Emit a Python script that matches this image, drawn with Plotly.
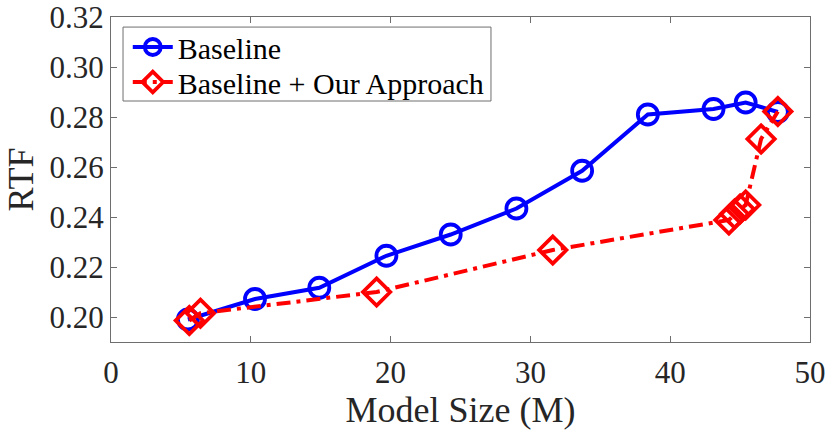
import plotly.graph_objects as go

# values
base_size = [5.5, 10.3, 14.9, 19.7, 24.3, 29.0, 33.7, 38.4, 43.1, 45.4, 47.7]
base_rtf = [0.1990, 0.2072, 0.2117, 0.2245, 0.2330, 0.2434, 0.2585, 0.2810, 0.2832, 0.2858, 0.2820]

ours_size = [5.6, 6.4, 19.0, 31.6, 44.2, 44.6, 45.0, 45.4, 46.5, 47.7]
ours_rtf = [0.1986, 0.2015, 0.2100, 0.2268, 0.2388, 0.2412, 0.2432, 0.2448, 0.2712, 0.2822]

x_ticks = [0, 10, 20, 30, 40, 50]
y_ticks = [0.20, 0.22, 0.24, 0.26, 0.28, 0.30, 0.32]

serif = "Liberation Serif"
axis_grey = "#6e6e6e"

fig = go.Figure()

fig.add_trace(go.Scatter(
    x=base_size, y=base_rtf,
    name="Baseline",
    mode="lines+markers",
    line=dict(color="#0000ff", width=4),
    marker=dict(symbol="circle-open", size=20, color="#0000ff",
                line=dict(width=3.8, color="#0000ff")),
    legend="legend",
))

fig.add_trace(go.Scatter(
    x=ours_size, y=ours_rtf,
    name="Baseline + Our Approach",
    mode="lines+markers",
    line=dict(color="#ff0000", width=4, dash="14px,6px,4px,6px"),
    marker=dict(symbol="diamond-open", size=21, color="#ff0000",
                line=dict(width=3.8, color="#ff0000")),
    legend="legend2",
))

axis_common = dict(
    showline=True, linecolor=axis_grey, linewidth=1, mirror="ticks",
    ticks="inside", ticklen=6, tickcolor=axis_grey, tickwidth=1,
    showgrid=False, zeroline=False, automargin=False,
    ticklabeloverflow="allow",
    tickfont=dict(family=serif, size=31, color="#262626"),
)

fig.update_xaxes(
    range=[0, 50], tickvals=x_ticks, ticklabelstandoff=3,
    title=dict(text="Model Size (M)", font=dict(family=serif, size=36, color="#262626"),
               standoff=2),
    **axis_common,
)
fig.update_yaxes(
    range=[0.19, 0.32], tickvals=y_ticks, tickformat=".2f",
    title=dict(text="RTF", font=dict(family=serif, size=36, color="#262626"),
               standoff=4),
    **axis_common,
)

# one shared box behind the two single-entry legends (tighter rows than one legend)
fig.add_shape(
    type="rect", xref="paper", yref="paper",
    x0=0.0172, x1=0.5436, y0=0.7415, y1=0.969,
    line=dict(color=axis_grey, width=1), fillcolor="white", layer="above",
)

legend_common = dict(
    xanchor="left", yanchor="middle", x=0.024,
    bgcolor="rgba(0,0,0,0)", borderwidth=0,
    font=dict(family=serif, size=30, color="#000000"),
    itemwidth=40,
)

fig.update_layout(
    width=830, height=434,
    margin=dict(l=111, r=20, t=17, b=92),
    plot_bgcolor="white", paper_bgcolor="white",
    font=dict(family=serif, color="#000000"),
    legend=dict(y=0.9077, **legend_common),
    legend2=dict(y=0.800, **legend_common),
    showlegend=True,
)

# drop the page's default 8px body margin so the figure sits at the window corner
fig.write_html(
    "out.html",
    config={"displayModeBar": False},
    post_script="document.body.style.margin = '0';",
)
